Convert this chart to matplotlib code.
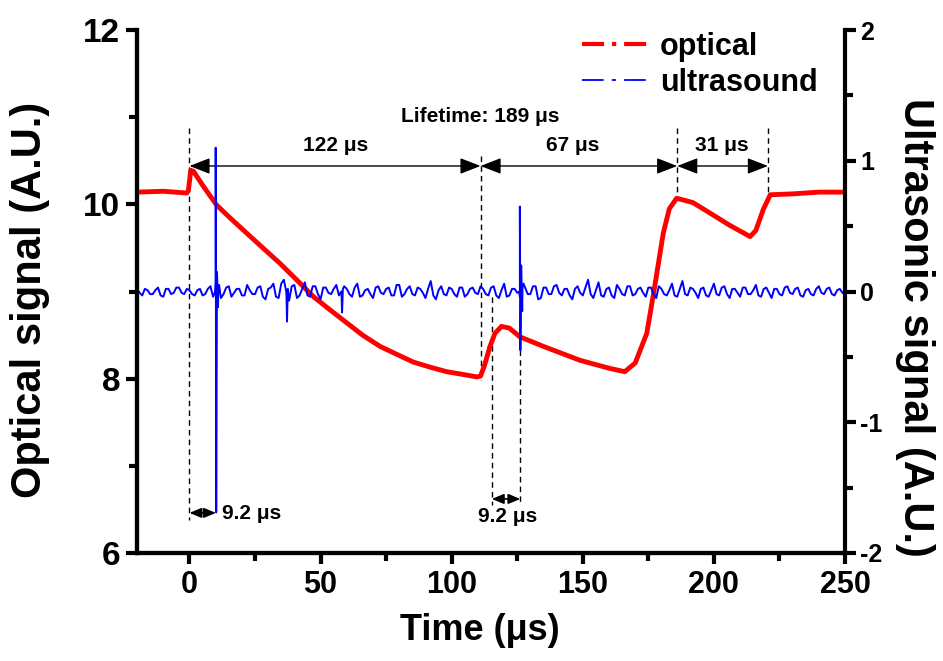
import numpy as np
import matplotlib.pyplot as plt
from matplotlib.lines import Line2D
from matplotlib.ticker import MultipleLocator

plt.rcParams['font.family'] = ['Liberation Sans', 'DejaVu Sans']
plt.rcParams['font.weight'] = 'bold'
plt.rcParams['axes.unicode_minus'] = False

# optical trace (left axis)
opt_time = [-20, -10, -1, -0.4, 0.5, 1.5, 5, 10.4, 16, 21.8, 28, 34.6, 41, 47.3,
            54, 60, 66, 72.7, 79, 85.4, 92, 98.1, 104, 109.6, 111, 112.5, 114.6,
            116.5, 119, 122, 126, 135, 149, 160, 166, 170, 174.4, 177, 180.7, 183,
            185.8, 192, 198.5, 206, 213.8, 216, 218.8, 221.5, 230, 240, 250]
opt_signal = [10.14, 10.15, 10.13, 10.16, 10.39, 10.38, 10.22, 9.99, 9.83, 9.67,
              9.50, 9.32, 9.13, 8.94, 8.78, 8.64, 8.50, 8.37, 8.28, 8.19, 8.13,
              8.08, 8.05, 8.02, 8.03, 8.15, 8.37, 8.52, 8.60, 8.58, 8.48, 8.37,
              8.21, 8.12, 8.08, 8.18, 8.52, 8.98, 9.67, 9.95, 10.07, 10.02, 9.90,
              9.76, 9.63, 9.70, 9.94, 10.11, 10.12, 10.14, 10.14]

# ultrasound baseline (right axis): even microseconds, then odd ones
even_time = np.arange(-20, 251, 2)
even_values = [
    0.02, -0.03, 0.01, -0.02, 0.03, -0.04, 0.02, -0.01, 0.03, -0.02, 0.01, -0.03, 0.02, -0.02, 0.04, 0.08, -0.05,
    0.03, -0.04, 0.02, -0.03, 0.05, -0.02, 0.03, -0.04, 0.02, 0.06, -0.05, 0.09, -0.07, 0.05, -0.03, 0.07, -0.04,
    0.04, -0.06, 0.03, -0.02, 0.05, -0.03, 0.02, -0.04, 0.06, -0.03, 0.02, -0.05, 0.04, -0.02, 0.03, -0.03, 0.05,
    -0.02, 0.04, -0.03, 0.02, -0.05, 0.08, -0.06, 0.04, -0.03, 0.02, -0.04, 0.03, -0.02, 0.03, -0.02, 0.02, -0.03,
    0.04, -0.05, 0.06, -0.03, 0.02, -0.04, 0.03, -0.02, 0.04, -0.05, 0.03, -0.02, 0.05, -0.03, 0.02, -0.06, 0.04,
    -0.03, 0.09, -0.05, 0.07, -0.04, 0.03, -0.05, 0.02, -0.03, 0.04, -0.02, 0.03, -0.04, 0.03, -0.05, 0.02, -0.03,
    0.06, -0.04, 0.08, -0.03, 0.02, -0.05, 0.03, -0.04, 0.06, -0.03, 0.04, -0.05, 0.02, -0.04, 0.03, -0.02, 0.05,
    -0.04, 0.03, -0.05, 0.02, -0.03, 0.04, -0.02, 0.03, -0.04, 0.02, -0.03, 0.04, -0.02, 0.03, -0.03, 0.02, -0.02,
]
odd_time = np.arange(-19, 250, 2)
odd_values = [
    -0.01, 0.02, -0.02, 0.01, -0.03, 0.02, -0.02, 0.03, -0.01, 0.02, -0.02, 0.01, -0.03, 0.02, -0.04,
    0.03, -0.02, 0.04, -0.01, 0.02, -0.03, 0.01, -0.02, 0.04, -0.06, 0.03, -0.04, 0.06, -0.03, 0.04,
    -0.05, 0.02, -0.03, 0.04, -0.02, 0.03, -0.01, 0.02, -0.03, 0.04, -0.02, 0.03, -0.04, 0.01, -0.02,
    0.03, -0.01, 0.02, -0.03, 0.05, -0.04, 0.02, -0.02, 0.03, -0.01, 0.02, -0.03, 0.01, -0.02, 0.03,
    -0.02, 0.03, -0.04, 0.02, -0.01, 0.04, -0.02, 0.03, -0.03, 0.01, -0.04, 0.02, -0.01, 0.03, -0.02,
    0.04, -0.06, 0.03, -0.02, 0.04, -0.01, 0.02, -0.03, 0.02, -0.01, 0.03, -0.02, 0.01, -0.03, 0.02,
    -0.03, 0.05, -0.02, 0.04, -0.03, 0.02, -0.01, 0.03, -0.02, 0.04, -0.02, 0.01, -0.03, 0.02, -0.02,
    0.03, -0.01, 0.02, -0.03, 0.01, -0.02, 0.03, -0.02, 0.02, -0.01, 0.03, -0.02, 0.01, -0.03, 0.02,
    -0.01, 0.02, -0.02, 0.03, -0.01, 0.02, -0.03, 0.01, -0.02, 0.02, -0.01, 0.02, -0.02, 0.01, -0.01,
]
# acoustic spikes
spike_time = [9.8, 10.0, 10.2, 10.5, 10.9, 11.3,
              36.9, 37.2, 37.5, 57.9, 58.2, 58.5,
              125.8, 126.0, 126.2, 126.5, 126.9, 127.4]
spike_values = [0.0, 1.10, -1.69, 0.15, -0.12, 0.05,
                0.0, -0.23, 0.02, 0.0, -0.16, 0.02,
                0.0, 0.65, -0.45, 0.20, -0.15, 0.06]

us_t = np.concatenate([even_time, odd_time, spike_time])
us_v = np.concatenate([even_values, odd_values, spike_values])
order = np.argsort(us_t, kind='stable')
us_t, us_v = us_t[order], us_v[order]

fig = plt.figure(figsize=(9.43, 6.61), dpi=100)
ax = fig.add_axes([0.1453, 0.1634, 0.7508, 0.7912])
ax2 = ax.twinx()

ax.plot(opt_time, opt_signal, color='#ff0000', lw=3.5, zorder=3)
ax2.plot(us_t, us_v, color='#0000ff', lw=1.4)

ax.set_xlim(-20, 250)
ax.set_ylim(6, 12)
ax2.set_ylim(-2, 2)

for a in (ax, ax2):
    a.spines['top'].set_visible(False)
    for s in a.spines.values():
        s.set_linewidth(3)
ax.spines['right'].set_visible(False)

ax.xaxis.set_major_locator(MultipleLocator(50))
ax.xaxis.set_minor_locator(MultipleLocator(25))
ax.yaxis.set_major_locator(MultipleLocator(2))
ax.yaxis.set_minor_locator(MultipleLocator(1))
ax2.yaxis.set_major_locator(MultipleLocator(1))
ax2.yaxis.set_minor_locator(MultipleLocator(0.5))

ax.tick_params(axis='y', which='major', length=8, width=3, labelsize=24, pad=4)
ax.tick_params(axis='x', which='major', length=8, width=3, labelsize=22, pad=4)
ax.tick_params(which='minor', length=6, width=3)
ax2.tick_params(which='major', length=8, width=3, labelsize=18, pad=3)
ax2.tick_params(which='minor', length=6, width=3)

ax.set_xlabel('Time (μs)', fontsize=26, fontweight='bold')
ax.xaxis.set_label_coords(0.484, -0.115)
ax.set_ylabel('Optical signal (A.U.)', fontsize=30, fontweight='bold')
ax.yaxis.set_label_coords(-0.123, 0.484)
ax2.set_ylabel('Ultrasonic signal (A.U.)', fontsize=30, fontweight='bold',
               rotation=270, va='bottom')
ax2.yaxis.set_label_coords(1.07, 0.432)

# dashed guide lines (time, y from, y to) in optical units
guides = [(0, 10.88, 6.38), (111, 10.55, 7.98), (115.3, 8.94, 6.55),
          (126.2, 8.33, 6.55), (186, 10.88, 10.07), (220.6, 10.88, 10.13)]
for t, y0, y1 in guides:
    ax.plot([t, t], [y0, y1], color='black', lw=1, ls=(0, (4, 3)), zorder=2)

big = dict(arrowstyle='<|-|>,head_length=0.9,head_width=0.35', color='black',
           lw=1, shrinkA=0, shrinkB=0, mutation_scale=14)
small = dict(arrowstyle='<|-|>,head_length=0.6,head_width=0.25', color='black',
             lw=1.2, shrinkA=0, shrinkB=0, mutation_scale=12)
for t0, t1 in [(0, 111), (111, 186), (186, 220.6)]:
    ax.annotate('', xy=(t1, 10.44), xytext=(t0, 10.44), arrowprops=big)
ax.annotate('', xy=(10.1, 6.46), xytext=(0, 6.46), arrowprops=small)
ax.annotate('', xy=(126.2, 6.62), xytext=(115.3, 6.62), arrowprops=small)

tk = dict(fontsize=15, fontweight='bold')
ax.text(110.8, 11.01, 'Lifetime: 189 μs', ha='center', va='center', **tk)
ax.text(55.9, 10.67, '122 μs', ha='center', va='center', **tk)
ax.text(146.3, 10.67, '67 μs', ha='center', va='center', **tk)
ax.text(203.1, 10.67, '31 μs', ha='center', va='center', **tk)
ax.text(12.4, 6.45, '9.2 μs', ha='left', va='center', **tk)
ax.text(121.5, 6.42, '9.2 μs', ha='center', va='center', **tk)

handles = [Line2D([], [], color='#ff0000', lw=3, ls=(0, (5.3, 1.9, 1.0, 1.9))),
           Line2D([], [], color='#0000ff', lw=1.3, ls=(0, (12, 4.5, 2.3, 4.5)))]
fig.legend(handles, ['optical', 'ultrasound'], loc='upper left',
           bbox_to_anchor=(0.601, 0.975), frameon=False,
           handlelength=2.2, handletextpad=0.35, labelspacing=0.2, borderpad=0,
           prop=dict(weight='bold', size=22))

fig.savefig('out.png', dpi=100)
